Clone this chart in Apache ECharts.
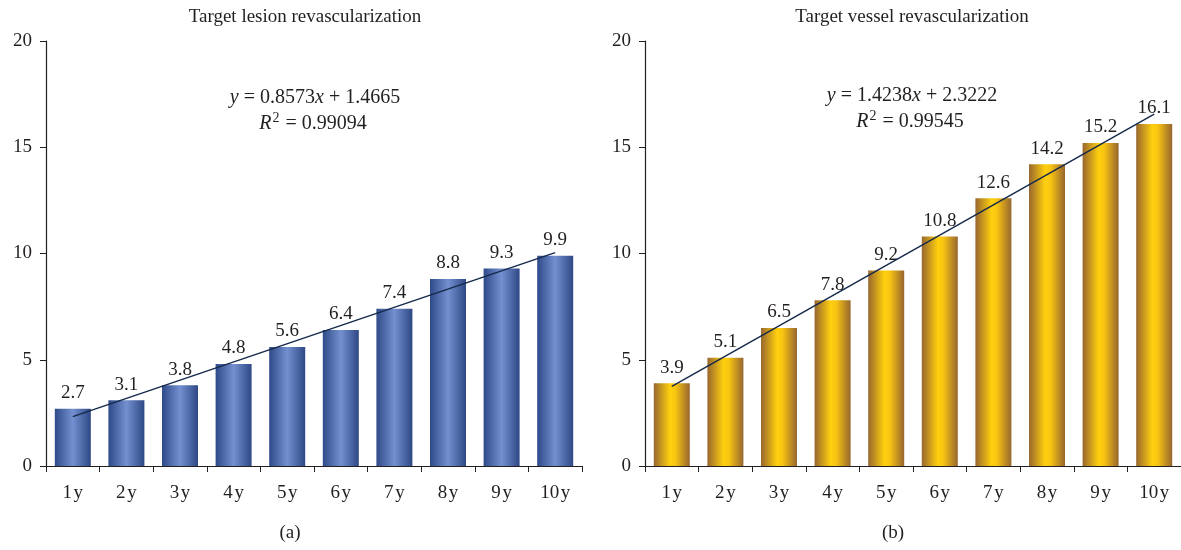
<!DOCTYPE html>
<html>
<head>
<meta charset="utf-8">
<script src="https://cdn.jsdelivr.net/npm/echarts@6/dist/echarts.min.js"></script>
<style>
  html, body { margin: 0; padding: 0; background: #fff; }
  #main { width: 1181px; height: 550px; }
</style>
</head>
<body>
<div id="main"></div>
<script>
// data
var years = ["1y", "2y", "3y", "4y", "5y", "6y", "7y", "8y", "9y", "10y"];
var lesionValues = [2.7, 3.1, 3.8, 4.8, 5.6, 6.4, 7.4, 8.8, 9.3, 9.9];
var vesselValues = [3.9, 5.1, 6.5, 7.8, 9.2, 10.8, 12.6, 14.2, 15.2, 16.1];
// trend line end points (1y and 10y)
var lesionTrend = [2.32, 10.04];
var vesselTrend = [3.75, 16.56];
var yTicks = [0, 5, 10, 15, 20];

var FONT = "Liberation Serif";
var INK = "#231f20";

var myChart = echarts.init(document.getElementById("main"));

function trendData(t) {
  return [[years[0], t[0]], [years[years.length - 1], t[1]]];
}

function xAxisFor(i) {
  return {
    type: "category",
    gridIndex: i,
    data: years,
    axisLine: { lineStyle: { color: INK, width: 1.2 } },
    axisTick: { show: true, length: 6, lineStyle: { color: INK } },
    axisLabel: {
      color: INK,
      fontFamily: FONT,
      fontSize: 19,
      margin: 18,
      // small gap between the number and "y", like the original
      formatter: function (v) { return v.replace("y", "\u200Ay"); },
    },
  };
}
function yAxisFor(i) {
  return {
    type: "value",
    gridIndex: i,
    min: yTicks[0],
    max: yTicks[yTicks.length - 1],
    interval: 5,
    splitLine: { show: false },
    axisLine: { show: true, lineStyle: { color: INK, width: 1.2 } },
    axisTick: { show: true, length: 6, lineStyle: { color: INK } },
    axisLabel: { color: INK, fontFamily: FONT, fontSize: 19, margin: 14 },
  };
}

var blue = new echarts.graphic.LinearGradient(0, 0, 1, 0, [
  { offset: 0, color: "#2f4a88" },
  { offset: 0.5, color: "#7590d0" },
  { offset: 1, color: "#2d4884" },
]);
var gold = new echarts.graphic.LinearGradient(0, 0, 1, 0, [
  { offset: 0, color: "#98672e" },
  { offset: 0.45, color: "#ffd00e" },
  { offset: 0.6, color: "#f8c412" },
  { offset: 1, color: "#96662e" },
]);

var valueLabel = {
  show: true,
  position: "top",
  distance: 6,
  color: INK,
  fontFamily: FONT,
  fontSize: 19,
};

function textEl(x, y, text, size) {
  return {
    type: "text",
    x: x,
    y: y,
    style: {
      text: text,
      fontFamily: FONT,
      fontSize: size,
      fill: INK,
      align: "center",
      verticalAlign: "middle",
      rich: {
        i: { fontStyle: "italic", fontFamily: FONT, fontSize: size, fill: INK },
        // bottom padding lifts the small "2" into superscript position
        sup: { fontFamily: FONT, fontSize: 14, fill: INK, padding: [0, 1, 12, 1] },
      },
    },
  };
}

myChart.setOption({
  animation: false,
  grid: [
    { left: 46, top: 41, width: 536, height: 425 },
    { left: 645, top: 41, width: 536, height: 425 },
  ],
  xAxis: [xAxisFor(0), xAxisFor(1)],
  yAxis: [yAxisFor(0), yAxisFor(1)],
  series: [
    {
      type: "bar",
      xAxisIndex: 0,
      yAxisIndex: 0,
      data: lesionValues,
      barWidth: 36,
      itemStyle: { color: blue },
      label: valueLabel,
    },
    {
      type: "line",
      xAxisIndex: 0,
      yAxisIndex: 0,
      data: trendData(lesionTrend),
      symbol: "none",
      lineStyle: { color: "#14284a", width: 1.4 },
      z: 5,
    },
    {
      type: "bar",
      xAxisIndex: 1,
      yAxisIndex: 1,
      data: vesselValues,
      barWidth: 36,
      itemStyle: { color: gold },
      label: valueLabel,
    },
    {
      type: "line",
      xAxisIndex: 1,
      yAxisIndex: 1,
      data: trendData(vesselTrend),
      symbol: "none",
      lineStyle: { color: "#14284a", width: 1.4 },
      z: 5,
    },
  ],
  graphic: [
    textEl(305, 17, "Target lesion revascularization", 19),
    textEl(912, 17, "Target vessel revascularization", 19),
    textEl(315, 98, "{i|y} = 0.8573{i|x} + 1.4665", 20),
    textEl(313, 124, "{i|R}{sup|2} = 0.99094", 20),
    textEl(912, 96, "{i|y} = 1.4238{i|x} + 2.3222", 20),
    textEl(910, 122, "{i|R}{sup|2} = 0.99545", 20),
    textEl(290, 533, "(a)", 19),
    textEl(893, 533, "(b)", 19),
  ],
});
</script>
</body>
</html>
